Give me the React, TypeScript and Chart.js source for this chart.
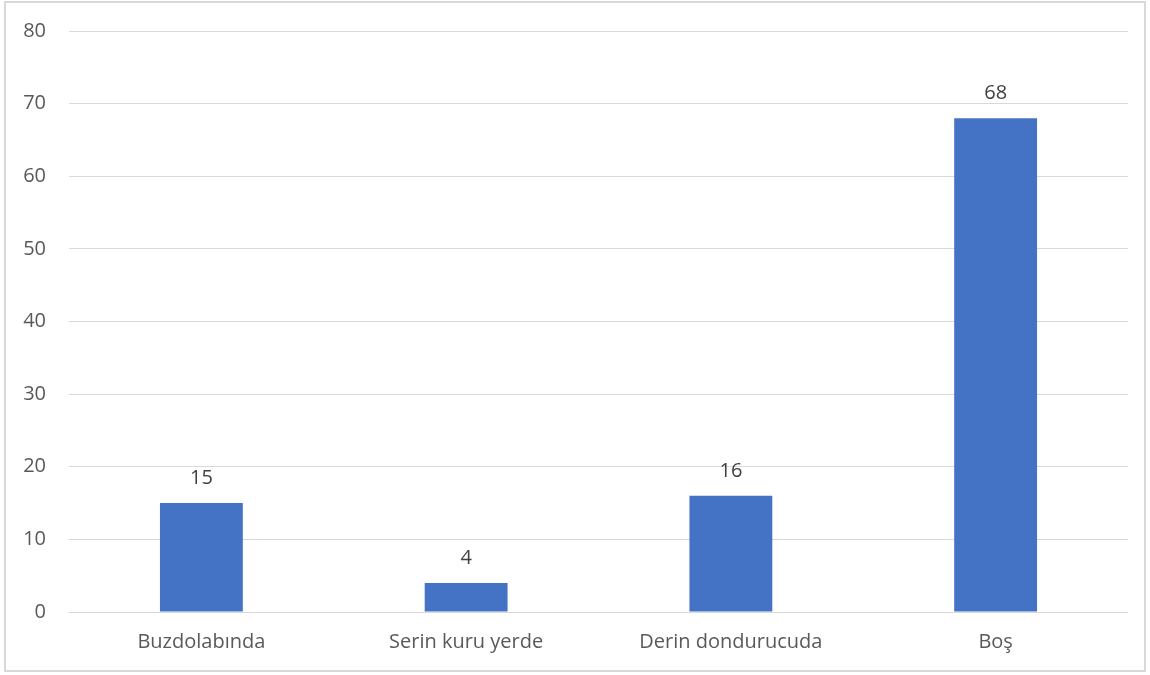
import React, { useEffect, useRef } from "react";
import { Chart, registerables } from "chart.js";

Chart.register(...registerables);

const categories = ["Buzdolabında", "Serin kuru yerde", "Derin dondurucuda", "Boş"];
const values = [15, 4, 16, 68];
const yMin = 0;
const yMax = 80;
const yStep = 10;

const FONT = "'Open Sans', 'Noto Sans', sans-serif";
const FS = 20;

const dataLabels = {
  id: "dataLabels",
  afterDatasetsDraw(chart: any) {
    const ctx = chart.ctx;
    const meta = chart.getDatasetMeta(0);
    ctx.save();
    ctx.font = `${FS}px ${FONT}`;
    ctx.fillStyle = "#404040";
    ctx.textAlign = "center";
    ctx.textBaseline = "alphabetic";
    meta.data.forEach((bar: any, i: number) => {
      ctx.fillText(String(values[i]), bar.x, bar.y - 19);
    });
    ctx.restore();
  },
};

export default function App() {
  const ref = useRef<HTMLCanvasElement | null>(null);

  useEffect(() => {
    if (!ref.current) return;
    const chart = new Chart(ref.current, {
      type: "bar",
      data: {
        labels: categories,
        datasets: [
          {
            data: values,
            backgroundColor: "#4472c4",
            categoryPercentage: 1,
            barPercentage: 0.313,
          },
        ],
      },
      options: {
        animation: false,
        responsive: false,
        maintainAspectRatio: false,
        layout: { padding: { top: 31, right: 22, left: 0, bottom: 0 } },
        plugins: { legend: { display: false }, tooltip: { enabled: false } },
        scales: {
          x: {
            grid: { display: false, drawTicks: false },
            border: { display: false },
            ticks: { color: "#595959", font: { family: FONT, size: FS }, padding: 18, maxRotation: 0 },
            afterFit(axis: any) {
              axis.height = 63;
              axis.paddingLeft = 0;
              axis.paddingRight = 0;
            },
          },
          y: {
            min: yMin,
            max: yMax,
            grid: { color: "#d9d9d9", lineWidth: 1, drawTicks: false },
            border: { display: false },
            ticks: { stepSize: yStep, color: "#595959", font: { family: FONT, size: FS }, padding: 23 },
            afterFit(axis: any) {
              axis.width = 69;
              axis.paddingTop = 0;
              axis.paddingBottom = 0;
            },
          },
        },
      },
      plugins: [dataLabels],
    });
    return () => chart.destroy();
  }, []);

  return (
    <div style={{ position: "fixed", left: 0, top: 0, width: 1150, height: 675, background: "#fff" }}>
      <canvas ref={ref} width={1150} height={675} style={{ position: "absolute", left: 0, top: 0 }} />
      <div
        style={{
          position: "absolute",
          left: 4,
          top: 1,
          width: 1142,
          height: 671,
          border: "2px solid #d9d9d9",
          boxSizing: "border-box",
          pointerEvents: "none",
        }}
      />
    </div>
  );
}
